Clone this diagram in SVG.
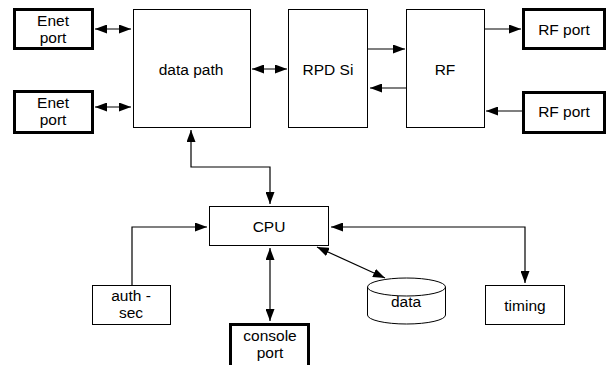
<svg xmlns="http://www.w3.org/2000/svg" width="607" height="365" viewBox="0 0 607 365">
<style>
.box{fill:#fff;stroke:#000;stroke-width:1}
.port{fill:#fff;stroke:#000;stroke-width:3}
.t{font-family:"Liberation Sans",Arial,sans-serif;font-size:15.5px;fill:#000;text-anchor:middle}
.c{fill:none;stroke:#000;stroke-width:1.2}
</style>
<defs>
<marker id="ah" viewBox="0 0 12 9" refX="12" refY="4.5" markerWidth="12" markerHeight="9" markerUnits="userSpaceOnUse" orient="auto-start-reverse">
<path d="M0,0 L12,4.5 L0,9 Z" fill="#000"/>
</marker>
</defs>
<g id="connectors">
<line class="c" x1="95" y1="29" x2="131" y2="29" marker-start="url(#ah)" marker-end="url(#ah)"/>
<line class="c" x1="95" y1="107" x2="131" y2="107" marker-start="url(#ah)" marker-end="url(#ah)"/>
<line class="c" x1="252" y1="69" x2="287" y2="69" marker-start="url(#ah)" marker-end="url(#ah)"/>
<line class="c" x1="368" y1="49" x2="405" y2="49" marker-end="url(#ah)"/>
<line class="c" x1="406" y1="88" x2="370" y2="88" marker-end="url(#ah)"/>
<line class="c" x1="484" y1="29" x2="521" y2="29" marker-end="url(#ah)"/>
<line class="c" x1="522" y1="111" x2="486" y2="111" marker-end="url(#ah)"/>
<polyline class="c" points="191,130 191,167 270,167 270,204" marker-start="url(#ah)" marker-end="url(#ah)"/>
<polyline class="c" points="132,285 132,227 207,227" marker-end="url(#ah)"/>
<line class="c" x1="270" y1="248" x2="270" y2="321" marker-start="url(#ah)" marker-end="url(#ah)"/>
<line class="c" x1="317" y1="247" x2="385" y2="278" marker-start="url(#ah)" marker-end="url(#ah)"/>
<polyline class="c" points="331,227 525,227 525,283" marker-start="url(#ah)" marker-end="url(#ah)"/>
</g>
<g id="enet1"><rect class="port" x="14.5" y="9.5" width="78" height="39"/><text class="t" x="53" y="26">Enet</text><text class="t" x="53" y="43">port</text></g>
<g id="enet2"><rect class="port" x="14.5" y="91.5" width="78" height="41"/><text class="t" x="53" y="108">Enet</text><text class="t" x="53" y="125">port</text></g>
<g id="datapath"><rect class="box" x="133.5" y="9.5" width="117" height="118"/><text class="t" x="191" y="75">data path</text></g>
<g id="rpdsi"><rect class="box" x="288.5" y="9.5" width="79" height="118"/><text class="t" x="328" y="75">RPD Si</text></g>
<g id="rf"><rect class="box" x="406.5" y="9.5" width="78" height="118"/><text class="t" x="445" y="75">RF</text></g>
<g id="rfport1"><rect class="port" x="523.5" y="9.5" width="81" height="39"/><text class="t" x="564" y="35">RF port</text></g>
<g id="rfport2"><rect class="port" x="523.5" y="92.5" width="81" height="40"/><text class="t" x="564" y="117">RF port</text></g>
<g id="cpu"><rect class="box" x="209.5" y="206.5" width="119" height="39"/><text class="t" x="269" y="232">CPU</text></g>
<g id="authsec"><rect class="box" x="92.5" y="285.5" width="78" height="39"/><text class="t" x="131" y="301">auth -</text><text class="t" x="131" y="318">sec</text></g>
<g id="console"><rect class="port" x="230.5" y="324.5" width="78" height="42"/><text class="t" x="270" y="341">console</text><text class="t" x="270" y="358">port</text></g>
<g id="data"><path class="box" d="M367.5,287 L367.5,315 A39,9 0 0 0 445.5,315 L445.5,287 A39,9 0 0 0 367.5,287 Z"/><path class="c" d="M367.5,287 A39,9 0 0 0 445.5,287" style="stroke-width:1"/><text class="t" x="406" y="307">data</text></g>
<g id="timing"><rect class="box" x="485.5" y="285.5" width="79" height="39"/><text class="t" x="525" y="311">timing</text></g>
</svg>
